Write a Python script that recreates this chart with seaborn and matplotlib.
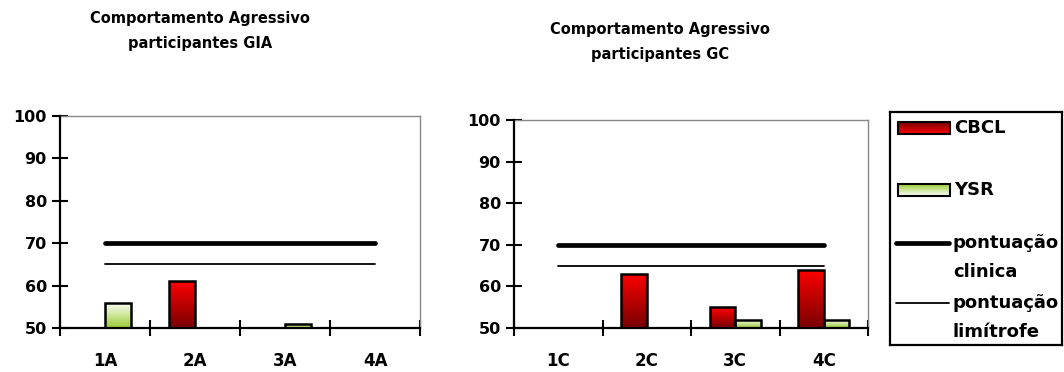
import numpy as np
import pandas as pd
import matplotlib
matplotlib.use("Agg")
import matplotlib.pyplot as plt
from matplotlib.colors import LinearSegmentedColormap
from matplotlib.patches import Rectangle
from matplotlib.ticker import FixedLocator
import seaborn as sns

# ---- data -------------------------------------------------------------
gia_labels = ["1A", "2A", "3A", "4A"]
gia_cbcl = [np.nan, 61, np.nan, np.nan]
gia_ysr = [56, np.nan, 51, np.nan]

gc_labels = ["1C", "2C", "3C", "4C"]
gc_cbcl = [np.nan, 63, 55, 64]
gc_ysr = [np.nan, np.nan, 52, 52]

clinical_cutoff = [70, 70, 70, 70]
borderline_cutoff = [65, 65, 65, 65]

series_names = ["CBCL", "YSR"]
titles = ["Comportamento Agressivo\nparticipantes GIA",
          "Comportamento Agressivo\nparticipantes GC"]
legend_lines = ["pontuação\nclinica", "pontuação\nlimítrofe"]

# ---- style ------------------------------------------------------------
sns.set_theme(style="white")
plt.rcParams["font.family"] = ["DejaVu Sans"]
plt.rcParams["font.weight"] = "bold"
plt.rcParams["text.color"] = "black"
plt.rcParams["xtick.color"] = "black"
plt.rcParams["ytick.color"] = "black"

red_cmap = LinearSegmentedColormap.from_list("red", ["#780000", "#ff0000"])
green_cmap = LinearSegmentedColormap.from_list("green", ["#99cc33", "#ffffff"])
cmaps = {"CBCL": red_cmap, "YSR": green_cmap}
base_colors = {"CBCL": "#e00000", "YSR": "#cce699"}

fig = plt.figure(figsize=(10.64, 3.72), dpi=100)
W, H = 1064, 372


def px_axes(x0, y_top, x1, y_bottom):
    return fig.add_axes([x0 / W, 1 - y_bottom / H, (x1 - x0) / W, (y_bottom - y_top) / H])


def gradient_fill(ax, patch, cmap, y_floor):
    x0 = patch.get_x()
    w = patch.get_width()
    y0 = max(patch.get_y(), y_floor)
    y1 = patch.get_y() + patch.get_height()
    if not np.isfinite(y1) or y1 <= y0:
        return
    grad = np.linspace(0, 1, 256).reshape(-1, 1)
    im = ax.imshow(grad, cmap=cmap, origin="lower", aspect="auto",
                   extent=[x0, x0 + w, y0, y1], zorder=1.5,
                   interpolation="bilinear")
    im.set_clip_path(patch)
    patch.set_facecolor("none")
    patch.set_zorder(2)


def draw_panel(ax, labels, cbcl, ysr):
    df = pd.DataFrame({
        "participante": labels * 2,
        "instrumento": ["CBCL"] * len(labels) + ["YSR"] * len(labels),
        "valor": list(cbcl) + list(ysr),
    })
    sns.barplot(data=df, x="participante", y="valor", hue="instrumento",
                order=labels, hue_order=series_names, palette=base_colors,
                saturation=1, dodge=True, width=0.58, edgecolor="black",
                linewidth=1.8, errorbar=None, legend=False, ax=ax)
    ax.set_xlim(-0.5, len(labels) - 0.5)
    ax.set_ylim(50, 100)
    ax.autoscale(False)
    for patch in list(ax.patches):
        fc = patch.get_facecolor()
        name = "CBCL" if fc[0] > fc[1] + 0.3 else "YSR"
        gradient_fill(ax, patch, cmaps[name], 50)

    xs = np.arange(len(labels))
    ax.plot(xs, clinical_cutoff, color="black", lw=3.4,
            solid_capstyle="round", zorder=3)
    ax.plot(xs, borderline_cutoff, color="black", lw=1.3, zorder=3)

    ax.set_xlabel("")
    ax.set_ylabel("")
    ax.set_yticks([50, 60, 70, 80, 90, 100])
    ax.xaxis.set_major_locator(FixedLocator(np.arange(-0.5, len(labels), 1.0)))
    ax.xaxis.set_minor_locator(FixedLocator(xs))
    ax.set_xticklabels([], minor=False)
    ax.set_xticklabels(labels, minor=True)
    ax.tick_params(axis="x", which="major", direction="inout", length=11,
                   width=1.5, color="black", bottom=True)
    ax.tick_params(axis="x", which="minor", length=0, pad=17,
                   labelsize=12, bottom=True)
    ax.tick_params(axis="y", direction="inout", length=11, width=1.5,
                   color="black", pad=4, labelsize=11.5, left=True)
    for lab in ax.get_xticklabels(minor=True) + ax.get_yticklabels():
        lab.set_fontweight("bold")
    for side in ("left", "bottom"):
        ax.spines[side].set_color("black")
        ax.spines[side].set_linewidth(1.6)
        ax.spines[side].set_zorder(4)
    for side in ("top", "right"):
        ax.spines[side].set_color("#888888")
        ax.spines[side].set_linewidth(1.0)
    ax.set_facecolor("white")


ax1 = px_axes(60, 116, 420, 328)
ax2 = px_axes(514, 120, 868, 328)
draw_panel(ax1, gia_labels, gia_cbcl, gia_ysr)
draw_panel(ax2, gc_labels, gc_cbcl, gc_ysr)

fig.text(200 / W, 1 - 31 / H, titles[0], ha="center", va="center",
         fontsize=10.5, fontweight="bold", linespacing=1.85)
fig.text(660 / W, 1 - 42 / H, titles[1], ha="center", va="center",
         fontsize=10.5, fontweight="bold", linespacing=1.85)

# ---- legend box -------------------------------------------------------
lg = px_axes(890, 112, 1062, 345)
lg.set_xticks([])
lg.set_yticks([])
for s in lg.spines.values():
    s.set_color("black")
    s.set_linewidth(1.6)

for name, yc in zip(series_names, [16, 78]):
    rect = Rectangle((8, yc - 6), 52, 12, facecolor=base_colors[name],
                     edgecolor="black", linewidth=1.5)
    lg.add_patch(rect)
    grad = np.linspace(0, 1, 64).reshape(-1, 1)
    im = lg.imshow(grad, cmap=cmaps[name], origin="upper", aspect="auto",
                   extent=[8, 60, yc + 6, yc - 6], zorder=0.5)
    im.set_clip_path(rect)
    rect.set_facecolor("none")
    lg.text(64, yc, name, ha="left", va="center", fontsize=13,
            fontweight="bold")

for label, yc, lw in zip(legend_lines, [131, 191], [3.4, 1.3]):
    lg.plot([6, 59], [yc, yc], color="black", lw=lw, solid_capstyle="round")
    first, second = label.split("\n")
    lg.text(63, yc, first, ha="left", va="center", fontsize=13,
            fontweight="bold")
    lg.text(63, yc + 29, second, ha="left", va="center", fontsize=13,
            fontweight="bold")
lg.set_xlim(0, 172)
lg.set_ylim(233, 0)

fig.savefig("out.png", dpi=100, facecolor="white")
